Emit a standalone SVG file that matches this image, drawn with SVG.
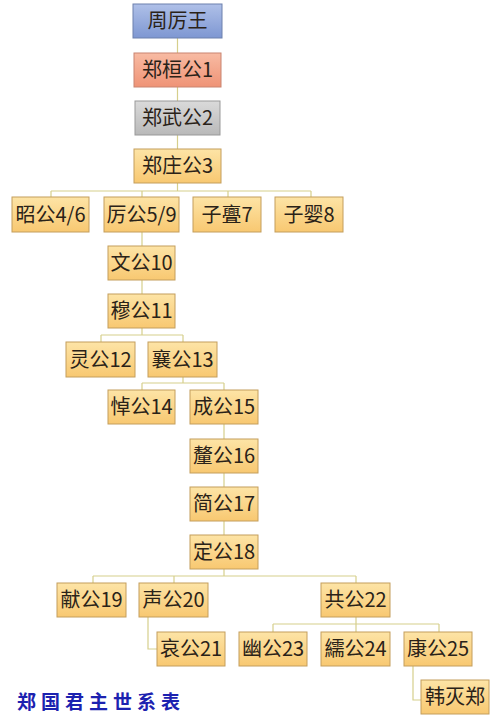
<svg xmlns="http://www.w3.org/2000/svg" width="500" height="723" viewBox="0 0 500 723">
<defs>
<linearGradient id="gOr" x1="0" y1="0" x2="0" y2="1"><stop offset="0" stop-color="#fde4a6"/><stop offset="1" stop-color="#f8c871"/></linearGradient>
<linearGradient id="gBl" x1="0" y1="0" x2="0" y2="1"><stop offset="0" stop-color="#afc0e8"/><stop offset="1" stop-color="#7e97d2"/></linearGradient>
<linearGradient id="gSa" x1="0" y1="0" x2="0" y2="1"><stop offset="0" stop-color="#f8bba3"/><stop offset="1" stop-color="#ef9376"/></linearGradient>
<linearGradient id="gGr" x1="0" y1="0" x2="0" y2="1"><stop offset="0" stop-color="#dadada"/><stop offset="1" stop-color="#b9b9b9"/></linearGradient>
</defs>
<style>
.n rect{fill:url(#gOr);stroke:#c49e5c;stroke-width:1}
.n text{font-family:"Noto Sans CJK SC","Liberation Sans",sans-serif;font-size:20px;fill:#2a2218;text-anchor:middle}
#n0 rect{fill:url(#gBl);stroke:#6d80ad}
#n1 rect{fill:url(#gSa);stroke:#c98470}
#n2 rect{fill:url(#gGr);stroke:#999}
#conn path{fill:none;stroke:#d6cf8c;stroke-width:1.2}
.title{font-family:"Noto Sans CJK SC",sans-serif;font-size:19px;font-weight:bold;fill:#1c22b0;letter-spacing:5px}
</style>
<rect width="500" height="723" fill="#ffffff"/>
<g id="conn">
<path d="M177.5 38V53M177.5 87V101M177.5 135V149M177.5 183V191"/>
<path d="M51 191H311M51 191V197M142 191V197M228 191V197M311 191V197"/>
<path d="M142 232V246M142 280V294M142 328V335M101 335H183M101 335V342M183 335V342"/>
<path d="M183 377V383M142 383H224M142 383V390M224 383V390"/>
<path d="M224 424V439M224 473V487M224 521V535M224 569V576M93 576H356M93 576V583M174 576V583M356 576V583"/>
<path d="M148 617V649H157"/>
<path d="M356 617V624M273 624H439M273 624V632M356 624V632M439 624V632"/>
<path d="M413 666V700H421"/>
</g>
<g id="n0" class="n"><rect x="133" y="4" width="89" height="34"/><text x="177.5" y="28">周厉王</text></g>
<g id="n1" class="n"><rect x="134" y="53" width="87" height="34"/><text x="177.5" y="77">郑桓公1</text></g>
<g id="n2" class="n"><rect x="135" y="101" width="85" height="34"/><text x="177.5" y="125">郑武公2</text></g>
<g id="n3" class="n"><rect x="134" y="149" width="87" height="34"/><text x="177.5" y="173">郑庄公3</text></g>
<g id="n4" class="n"><rect x="12" y="197" width="77" height="35"/><text x="50.5" y="221.5">昭公4/6</text></g>
<g id="n5" class="n"><rect x="104" y="197" width="75" height="35"/><text x="141.5" y="221.5">厉公5/9</text></g>
<g id="n7" class="n"><rect x="193" y="197" width="68" height="35"/><text x="227" y="221.5">子亹7</text></g>
<g id="n8" class="n"><rect x="275" y="197" width="68" height="35"/><text x="309" y="221.5">子婴8</text></g>
<g id="n10" class="n"><rect x="108" y="246" width="67" height="34"/><text x="141.5" y="270">文公10</text></g>
<g id="n11" class="n"><rect x="108" y="294" width="67" height="34"/><text x="141.5" y="318">穆公11</text></g>
<g id="n12" class="n"><rect x="66" y="342" width="69" height="35"/><text x="100.5" y="366.5">灵公12</text></g>
<g id="n13" class="n"><rect x="148" y="342" width="69" height="35"/><text x="182.5" y="366.5">襄公13</text></g>
<g id="n14" class="n"><rect x="108" y="390" width="67" height="34"/><text x="141.5" y="414">悼公14</text></g>
<g id="n15" class="n"><rect x="190" y="390" width="68" height="34"/><text x="224" y="414">成公15</text></g>
<g id="n16" class="n"><rect x="190" y="439" width="68" height="34"/><text x="224" y="463">釐公16</text></g>
<g id="n17" class="n"><rect x="190" y="487" width="68" height="34"/><text x="224" y="511">简公17</text></g>
<g id="n18" class="n"><rect x="190" y="535" width="68" height="34"/><text x="224" y="559">定公18</text></g>
<g id="n19" class="n"><rect x="57" y="583" width="69" height="34"/><text x="91.5" y="607">献公19</text></g>
<g id="n20" class="n"><rect x="139" y="583" width="69" height="34"/><text x="173.5" y="607">声公20</text></g>
<g id="n22" class="n"><rect x="321" y="583" width="69" height="34"/><text x="355.5" y="607">共公22</text></g>
<g id="n21" class="n"><rect x="157" y="632" width="68" height="34"/><text x="191" y="656">哀公21</text></g>
<g id="n23" class="n"><rect x="239" y="632" width="68" height="34"/><text x="273" y="656">幽公23</text></g>
<g id="n24" class="n"><rect x="321" y="632" width="69" height="34"/><text x="355.5" y="656">繻公24</text></g>
<g id="n25" class="n"><rect x="404" y="632" width="68" height="34"/><text x="438" y="656">康公25</text></g>
<g id="n26" class="n"><rect x="421" y="680" width="68" height="34"/><text x="455" y="704">韩灭郑</text></g>
<text class="title" x="17" y="709">郑国君主世系表</text>
</svg>
